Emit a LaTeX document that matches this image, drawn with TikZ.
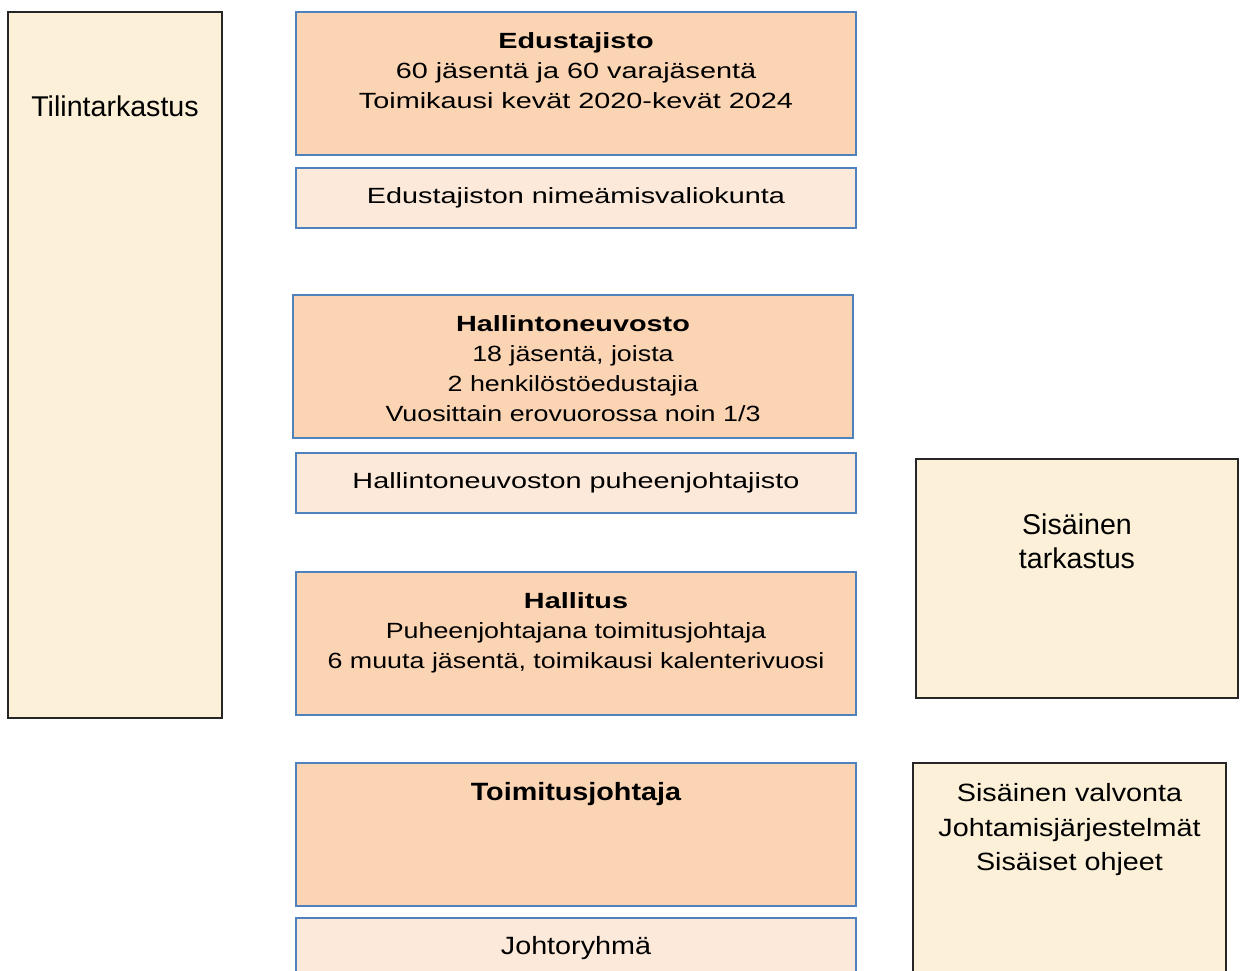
\documentclass[tikz,border=0pt]{standalone}
\usepackage{fontspec}
\setmainfont{Liberation Sans}
\newfontfamily\wideface{Liberation Sans}[FakeStretch=1.31]
\newfontfamily\bodyface{Liberation Sans}[FakeStretch=1.22]
\newfontfamily\midface{Liberation Sans}[FakeStretch=1.15]
\usepackage{tikz}
\usetikzlibrary{positioning}
\definecolor{orangebox}{HTML}{FBD4B4}
\definecolor{orangelight}{HTML}{FDE9D9}
\definecolor{boxblue}{HTML}{4F81BD}
\definecolor{parchment}{HTML}{FCF1D8}
\tikzset{
	mainbox/.style={% orange organ boxes
		draw=boxblue, fill=orangebox,
		rectangle,
		line width=0.8pt,
		inner sep=0pt,
		outer sep=0pt,
		minimum width=280pt,
		minimum height=71.5pt,
		anchor=north west
	},
	subbox/.style={
		mainbox,
		fill=orangelight,
		minimum height=30pt,
		font=\wideface\fontsize{11}{15}\selectfont
	},
	paperbox/.style={% parchment boxes on the sides
		draw=black!85, fill=parchment,
		rectangle,
		line width=0.7pt,
		inner sep=0pt,
		outer sep=0pt,
		anchor=north west
	},
	boxtext/.style={
		inner sep=0pt,
		align=center,
		font=\wideface\fontsize{11}{15}\selectfont
	},
	lowtext/.style={
		boxtext,
		font=\midface\fontsize{12.5}{17.3}\selectfont
	},
	papertext/.style={
		boxtext,
		font=\fontsize{14.3}{17}\selectfont
	}
}

\begin{document}
\begin{tikzpicture}[x=0.5pt, y=-0.5pt]
	\useasboundingbox (0,0) rectangle (1241,970);
	\clip (0,0) rectangle (1241,970);
	
	\node[paperbox, minimum width=107pt, minimum height=353pt] (TT) at (8,12) {};
	\node[papertext, below=41.5pt of TT.north] (TTt) {Tilintarkastus};
	
	\node[mainbox] (E) at (296,12) {};
	\node[boxtext, below=10pt of E.north] (Et) {\textbf{Edustajisto}\\60 jäsentä ja 60 varajäsentä\\Toimikausi kevät 2020-kevät 2024};
	\node[subbox, below=6.5pt of E] (EN) {Edustajiston nimeämisvaliokunta};
	
	\node[mainbox] (HN) at (293,295) {};
	\node[boxtext, below=10pt of HN.north] (HNt) {\textbf{Hallintoneuvosto}\\\bodyface 18 jäsentä, joista\\\bodyface 2 henkilöstöedustajia\\\bodyface Vuosittain erovuorossa noin 1/3};
	\node[subbox, below=7.5pt of HN, xshift=1.5pt] (HP) {Hallintoneuvoston puheenjohtajisto};
	
	\node[mainbox] (H) at (296,572) {};
	\node[boxtext, below=10pt of H.north] (Ht) {\textbf{Hallitus}\\\bodyface Puheenjohtajana toimitusjohtaja\\\bodyface 6 muuta jäsentä, toimikausi kalenterivuosi};
	
	\node[mainbox] (T) at (296,763) {};
	\node[lowtext, below=9.5pt of T.north] (Tt) {\textbf{Toimitusjohtaja}};
	\node[subbox, below=6pt of T, font=\midface\fontsize{12.5}{17.3}\selectfont] (J) {Johtoryhmä};
	
	\node[paperbox, minimum width=161pt, minimum height=119.5pt] (ST) at (916,459) {};
	\node[papertext, below=27pt of ST.north] (STt) {Sisäinen\\tarkastus};
	
	\node[paperbox, minimum width=156.5pt, minimum height=110pt] (SV) at (913,763) {};
	\node[lowtext, below=10pt of SV.north] (SVt) {Sisäinen valvonta\\Johtamisjärjestelmät\\Sisäiset ohjeet};
\end{tikzpicture}
\end{document}
